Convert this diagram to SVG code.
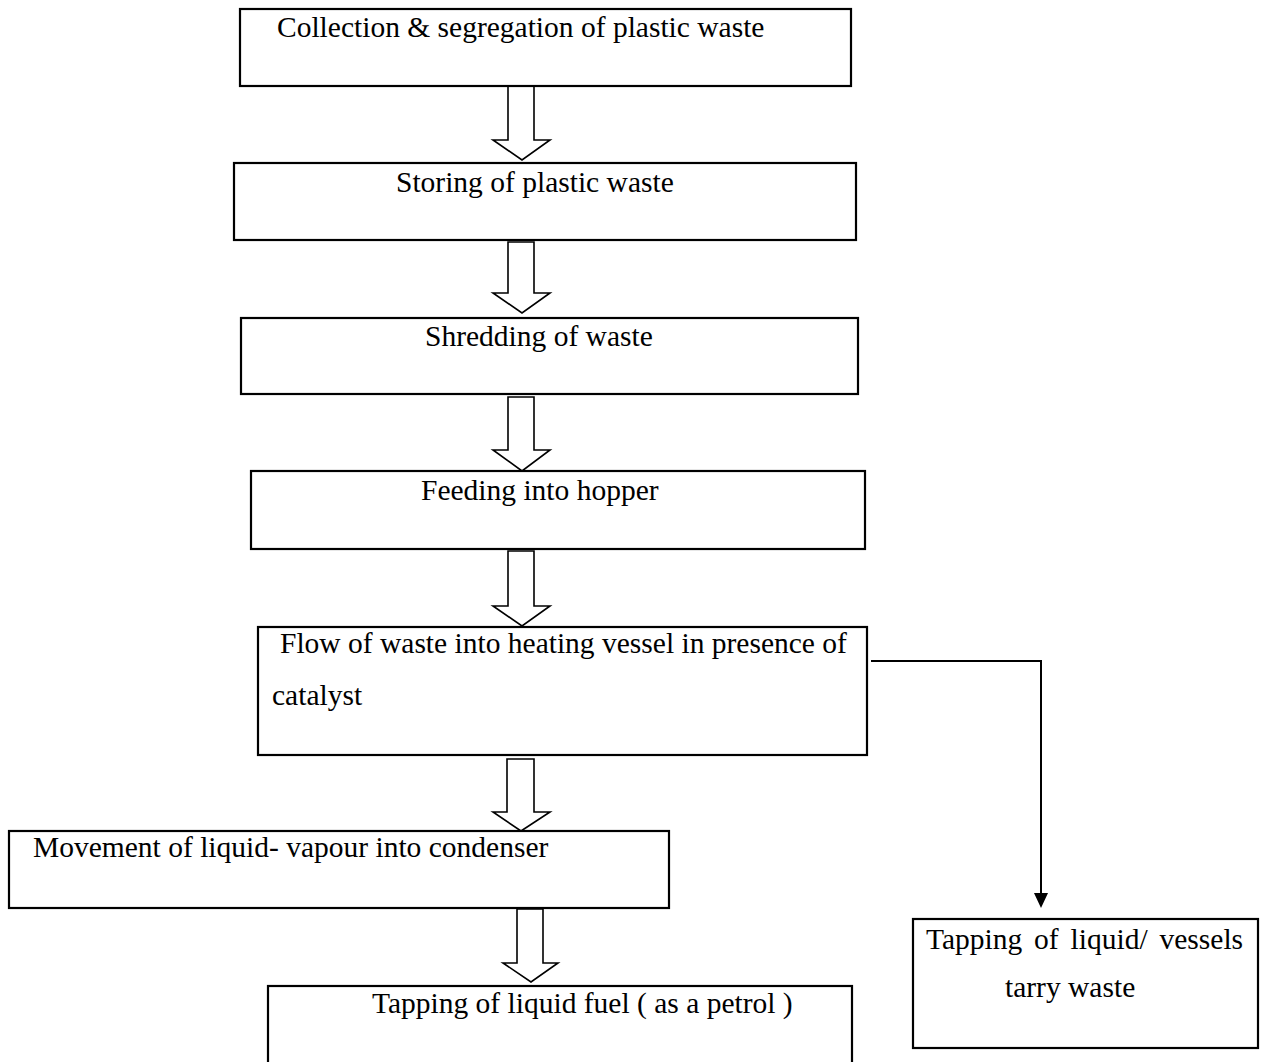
<svg xmlns="http://www.w3.org/2000/svg" width="1261" height="1062" viewBox="0 0 1261 1062">
<style>
.box{fill:#fff;stroke:#000;stroke-width:2.2}
.blk{fill:#fff;stroke:#000;stroke-width:1.6;stroke-linejoin:miter}
.t{font-family:"Liberation Serif","Times New Roman",serif;font-size:29.5px;fill:#000}
.con{fill:none;stroke:#000;stroke-width:2}
</style>
<rect width="1261" height="1062" fill="#fff"/>
<g id="connectors">
<path class="blk" d="M508,86 V140 H493 L522,160 L550,140 H534 V86 Z"/>
<path class="blk" d="M508,242 V293 H493 L522,313 L550,293 H534 V242 Z"/>
<path class="blk" d="M508,397 V450 H493 L522,471 L550,450 H534 V397 Z"/>
<path class="blk" d="M508,551 V606 H493 L522,626 L550,606 H534 V551 Z"/>
<path class="blk" d="M507,759 V812 H493 L521,831 L550,812 H534 V759 Z"/>
<path class="blk" d="M517,909 V963 H503 L531,982 L558,963 H543 V909 Z"/>
<path class="con" d="M871,661 H1041 V893"/>
<path d="M1034,893 L1048,893 L1041,908 Z" fill="#000"/>
</g>
<g id="n1"><rect class="box" x="240" y="9" width="611" height="77"/><text class="t" x="277" y="37">Collection &amp; segregation of plastic waste</text></g>
<g id="n2"><rect class="box" x="234" y="163" width="622" height="77"/><text class="t" x="396" y="192">Storing of plastic waste</text></g>
<g id="n3"><rect class="box" x="241" y="318" width="617" height="76"/><text class="t" x="425" y="346">Shredding of waste</text></g>
<g id="n4"><rect class="box" x="251" y="471" width="614" height="78"/><text class="t" x="421" y="500">Feeding into hopper</text></g>
<g id="n5"><rect class="box" x="258" y="627" width="609" height="128"/><text class="t" x="280" y="653">Flow of waste into heating vessel in presence of</text><text class="t" x="272" y="705">catalyst</text></g>
<g id="n6"><rect class="box" x="9" y="831" width="660" height="77"/><text class="t" x="33" y="857">Movement of liquid- vapour into condenser</text></g>
<g id="n7"><rect class="box" x="268" y="986" width="584" height="90"/><text class="t" x="372" y="1013">Tapping of liquid fuel ( as a petrol )</text></g>
<g id="n8"><rect class="box" x="913" y="919" width="345" height="129"/><text class="t" x="926" y="949" word-spacing="4.5">Tapping of liquid/ vessels</text><text class="t" x="1005" y="997">tarry waste</text></g>
</svg>
